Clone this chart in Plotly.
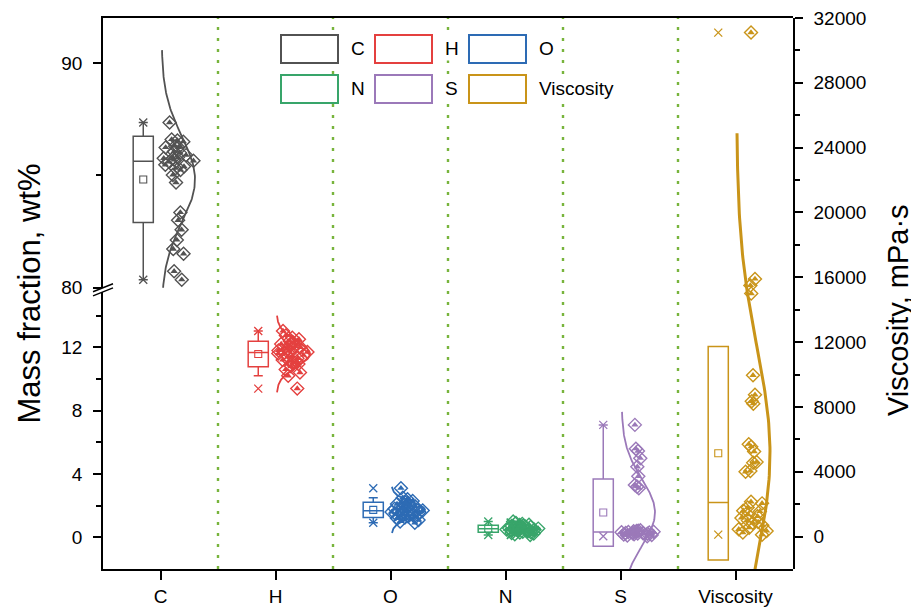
import numpy as np
import plotly.graph_objects as go

# ---------------- data ----------------
categories = ["C", "H", "O", "N", "S", "Viscosity"]
colors = ["#525252", "#e4403f", "#2d6bb4", "#38a56a", "#9b79b9", "#c99419"]

C_vals = [87.35, 86.6, 86.55, 86.5, 86.3, 86.25, 86.24, 86.06, 86.0, 85.9, 85.8, 85.76,
          85.76, 85.69, 85.65, 85.6, 85.47, 85.39, 85.32, 85.24, 85.02, 84.68, 83.35,
          83.0, 82.58, 82.13, 81.72, 81.51, 80.73, 80.36]
H_vals = [13.03, 12.75, 12.6, 12.5, 12.4, 12.3, 12.2, 12.1, 12.05, 12.0, 11.95, 11.9,
          11.8, 11.75, 11.7, 11.65, 11.6, 11.5, 11.4, 11.3, 11.2, 11.15, 11.1, 11.05,
          10.95, 10.8, 10.6, 10.4, 10.2, 9.39]
O_vals = [3.1, 2.5, 2.4, 2.3, 2.2, 2.15, 2.1, 2.05, 2.0, 1.95, 1.9, 1.85, 1.8, 1.75,
          1.7, 1.65, 1.6, 1.58, 1.55, 1.5, 1.48, 1.45, 1.4, 1.35, 1.3, 1.25, 1.2, 1.1,
          1.0, 0.92]
N_vals = [1.0, 0.9, 0.85, 0.8, 0.78, 0.75, 0.72, 0.7, 0.68, 0.65, 0.62, 0.6, 0.58,
          0.56, 0.55, 0.53, 0.5, 0.48, 0.46, 0.44, 0.42, 0.4, 0.38, 0.35, 0.32, 0.3,
          0.27, 0.24, 0.2, 0.15]
S_vals = [7.1, 5.6, 5.45, 5.0, 4.45, 3.85, 3.3, 3.2, 3.1, 0.45, 0.42, 0.4, 0.38, 0.36,
          0.35, 0.33, 0.32, 0.3, 0.29, 0.28, 0.27, 0.26, 0.25, 0.24, 0.22, 0.2, 0.18,
          0.15, 0.12, 0.07]
Visc_vals = [31100, 15900, 15500, 15000, 9950, 8750, 8350, 8200, 5700, 5550, 5250,
             4600, 4550, 4050, 4000, 2150, 2050, 1800, 1600, 1550, 1350, 1250, 1150,
             1000, 900, 850, 700, 550, 450, 350, 250, 120]

series = [C_vals, H_vals, O_vals, N_vals, S_vals, Visc_vals]
axes_of = [("x2", "y2"), ("x", "y"), ("x", "y"), ("x", "y"), ("x", "y"), ("x", "y3")]

left_lower_ticks = [0, 4, 8, 12]
left_lower_minor = [2, 6, 10, 14]
left_upper_ticks = [80, 90]
left_upper_minor = [85]
right_ticks = list(range(0, 32001, 4000))
right_minor = list(range(2000, 32001, 4000))

# ---------------- style / layout constants ----------------
W, H = 919, 607
PAGE_OFF = 8                      # body margin of the html page
ML, MT = 103 - PAGE_OFF, 18 - PAGE_OFF
PW, PH = 690, 551.5
MR, MB = W - ML - PW, H - MT - PH
FONT = "Liberation Sans, Arial, sans-serif"
BOX_OFF, BOX_W = -0.15, 0.175
PTS_OFF, PTS_W = 0.155, 0.30
CURVE_BASE, CURVE_AMP = 0.01, 0.29
LOWER_DOM = [0, 0.503]
UPPER_DOM = [0.5104, 1]
CLEAR = "rgba(0,0,0,0)"


def stats(v):
    a = np.asarray(v, dtype=float)
    mean, sd = a.mean(), a.std(ddof=1)
    q1, med, q3 = np.percentile(a, [25, 50, 75])
    iqr = q3 - q1
    lo = a[a >= q1 - 1.5 * iqr].min()
    hi = a[a <= q3 + 1.5 * iqr].max()
    return dict(mean=mean, sd=sd, med=med, lo=lo, hi=hi, mn=a.min(), mx=a.max())


fig = go.Figure()

for i, (name, vals, col, (xa, ya)) in enumerate(zip(categories, series, colors, axes_of)):
    s = stats(vals)
    bx = i + BOX_OFF
    # normal distribution curve
    ys = np.linspace(s["mean"] - 3 * s["sd"], s["mean"] + 3 * s["sd"], 160)
    xs = i + CURVE_BASE + CURVE_AMP * np.exp(-0.5 * ((ys - s["mean"]) / s["sd"]) ** 2)
    fig.add_trace(go.Scatter(
        x=xs, y=ys, mode="lines", xaxis=xa, yaxis=ya, showlegend=False,
        line=dict(color=col, width=3 if name == "Viscosity" else 1.8)))
    # box: mean +/- SD, median line, 1.5 IQR whiskers
    fig.add_trace(go.Box(
        x=[bx], q1=[s["mean"] - s["sd"]], median=[s["med"]], q3=[s["mean"] + s["sd"]],
        lowerfence=[s["lo"]], upperfence=[s["hi"]], boxpoints=False,
        width=BOX_W, whiskerwidth=0.45, fillcolor=CLEAR,
        line=dict(color=col, width=1.5), xaxis=xa, yaxis=ya, showlegend=False,
        hoverinfo="skip"))
    # mean square
    fig.add_trace(go.Scatter(
        x=[bx], y=[s["mean"]], mode="markers", xaxis=xa, yaxis=ya, showlegend=False,
        marker=dict(symbol="square-open", size=7, color=col, line=dict(width=1.1, color=col))))
    # min / max
    fig.add_trace(go.Scatter(
        x=[bx, bx], y=[s["mn"], s["mx"]], mode="markers", xaxis=xa, yaxis=ya,
        showlegend=False,
        marker=dict(symbol="x-thin-open", size=8, color=col, line=dict(width=1.3, color=col))))
    # jittered data points: open diamond + filled upper part
    for sym, size, lw in (("diamond-open", 10, 1.4), ("triangle-up", 6.5, 0)):
        fig.add_trace(go.Box(
            y=vals, x0=i + PTS_OFF, width=PTS_W, boxpoints="all", jitter=1, pointpos=0,
            fillcolor=CLEAR, line=dict(color=CLEAR, width=0),
            marker=dict(symbol=sym, size=size, color=col, line=dict(width=lw, color=col)),
            xaxis=xa, yaxis=ya, showlegend=False, hoverinfo="y"))

shapes = []
# category separators
for k in range(len(categories) - 1):
    shapes.append(dict(type="line", xref="x", yref="paper", x0=k + 0.5, x1=k + 0.5,
                       y0=0, y1=1, layer="below",
                       line=dict(color="#78b43c", width=2.4, dash="3px,8px")))
# axis break marks
for yb in (LOWER_DOM[1], UPPER_DOM[0]):
    shapes.append(dict(type="line", xref="paper", yref="paper", xsizemode="pixel",
                       ysizemode="pixel", xanchor=0, yanchor=yb, x0=-10, x1=10,
                       y0=-4, y1=4, line=dict(color="black", width=1.5)))

# legend (drawn manually as boxes + labels, 3 columns x 2 rows), positions in page px
leg_x0 = [281, 375, 469]
leg_rows = [(35, 63), (75, 103)]
annotations = []


def px_to_paper_x(px):
    return (px - PAGE_OFF - ML) / PW


def py_to_paper_y(py):
    return (MT + PH - (py - PAGE_OFF)) / PH


for k, (name, col) in enumerate(zip(categories, colors)):
    r, c = divmod(k, 3)
    px0 = leg_x0[c]
    py0, py1 = leg_rows[r]
    shapes.append(dict(type="rect", xref="paper", yref="paper",
                       x0=px_to_paper_x(px0), x1=px_to_paper_x(px0 + 57),
                       y0=py_to_paper_y(py1), y1=py_to_paper_y(py0),
                       fillcolor="white", layer="above",
                       line=dict(color=col, width=2)))
    annotations.append(dict(text=name, xref="paper", yref="paper", showarrow=False,
                            x=px_to_paper_x(px0 + 68), y=py_to_paper_y((py0 + py1) / 2),
                            xanchor="left", yanchor="middle", bgcolor="white",
                            font=dict(size=19, color="black", family=FONT)))

# axis titles
annotations.append(dict(text="Mass fraction, wt%", xref="paper", yref="paper",
                        x=0, y=0.5, xshift=-74, textangle=-90, showarrow=False,
                        xanchor="center", yanchor="middle",
                        font=dict(size=31, color="black", family=FONT)))
annotations.append(dict(text="Viscosity, mPa·s", xref="paper", yref="paper",
                        x=1, y=0.47, xshift=105, textangle=-90, showarrow=False,
                        xanchor="center", yanchor="middle",
                        font=dict(size=29, color="black", family=FONT)))

tickfont = dict(size=19, color="black", family=FONT)
common_y = dict(showline=True, linecolor="black", linewidth=1.5, ticks="outside",
                ticklen=8, tickwidth=1.5, tickcolor="black", showgrid=False,
                zeroline=False, tickfont=tickfont, automargin=False,
                ticklabelstandoff=7, ticklabeloverflow="allow")

fig.update_layout(
    template="none",
    width=W, height=H, margin=dict(l=ML, r=MR, t=MT, b=MB, autoexpand=False),
    paper_bgcolor="white", plot_bgcolor=CLEAR, boxmode="overlay",
    showlegend=False, font=dict(family=FONT, color="black"),
    shapes=shapes, annotations=annotations,
    xaxis=dict(range=[-0.5, 5.5], domain=[0, 1], anchor="y", tickmode="array",
               tickvals=list(range(len(categories))), ticktext=categories,
               showline=True, linecolor="black", linewidth=1.5, ticks="outside",
               ticklen=9, tickwidth=1.5, tickcolor="black", showgrid=False,
               zeroline=False, tickfont=dict(size=19, color="black", family=FONT),
               ticklabelstandoff=0, automargin=False, ticklabeloverflow="allow"),
    xaxis2=dict(range=[-0.5, 5.5], overlaying="x", anchor="y2", side="top",
                showline=True, linecolor="black", linewidth=1.5, ticks="",
                showticklabels=False, showgrid=False, zeroline=False, automargin=False),
    yaxis=dict(domain=LOWER_DOM, range=[-2, 15.5], anchor="x", tickmode="array",
               tickvals=left_lower_ticks,
               minor=dict(tickmode="array", tickvals=left_lower_minor, ticks="outside",
                          ticklen=5, tickcolor="black", tickwidth=1.5, showgrid=False),
               **common_y),
    yaxis2=dict(domain=UPPER_DOM, range=[80, 92], anchor="x", tickmode="array",
                tickvals=left_upper_ticks,
                minor=dict(tickmode="array", tickvals=left_upper_minor, ticks="outside",
                           ticklen=5, tickcolor="black", tickwidth=1.5, showgrid=False),
                **common_y),
    yaxis3=dict(domain=[0, 1], range=[-2000, 32000.5], anchor="x", side="right",
                tickmode="array", tickvals=right_ticks, tickformat="d",
                minor=dict(tickmode="array", tickvals=right_minor, ticks="outside",
                           ticklen=5, tickcolor="black", tickwidth=1.5, showgrid=False),
                **common_y),
)

fig.write_html("out.html")
